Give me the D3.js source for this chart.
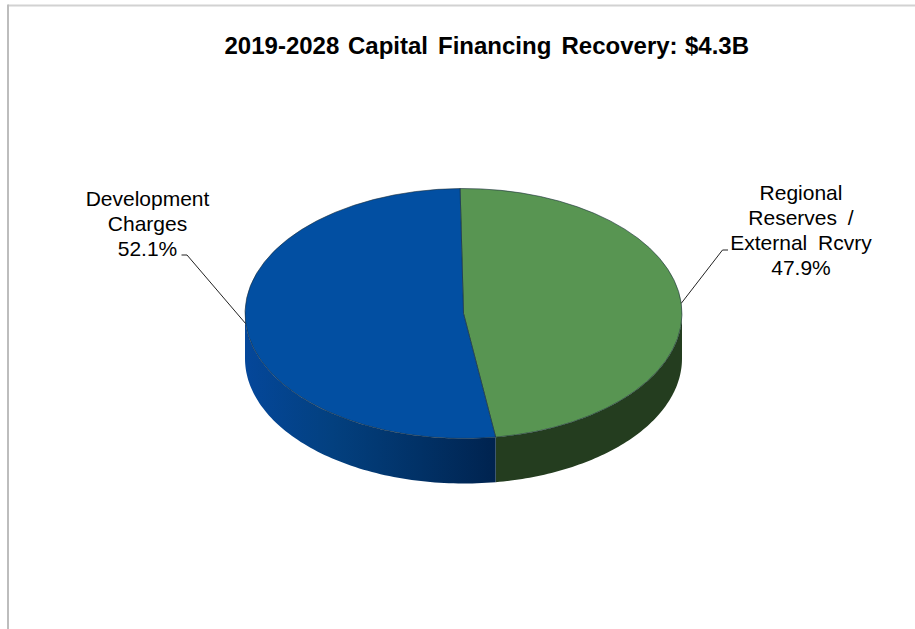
<!DOCTYPE html>
<html><head><meta charset="utf-8">
<script src="https://cdn.jsdelivr.net/npm/d3@7/dist/d3.min.js"></script>
<style>html,body{margin:0;padding:0;background:#fff}svg{display:block}text{font-family:"Liberation Sans",Arial,sans-serif;fill:#000}</style>
</head><body><svg id="c" width="915" height="629"></svg>
<script>
const categories = ["Regional Reserves / External Rcvry", "Development Charges"];
const shares = [47.9, 52.1];
const labelLines = [["Regional", "Reserves /", "External Rcvry", "47.9%"], ["Development", "Charges", "52.1%"]];
const titleWords = ["2019-2028", "Capital", "Financing", "Recovery:", "$4.3B"];
const topColors = ["#589552", "#024fa2"];

const W = 915, H = 629, cx = 463.5, cy = 313.5, rx = 218.5, ry = 125, depth = 45;
const svg = d3.select("#c");
const defs = svg.append("defs");

svg.append("path").attr("d", `M${W},5.5H8`).attr("fill", "none").attr("stroke", "#d2d2d2").attr("stroke-width", 2);
svg.append("path").attr("d", `M8,4.5V${H}`).attr("fill", "none").attr("stroke", "#bdbdbd").attr("stroke-width", 2);

const startA = -0.9 * Math.PI / 180;
const pie = d3.pie().sort(null).startAngle(startA).endAngle(startA + 2 * Math.PI);
const arcs = pie(shares);
const px = a => cx + rx * Math.sin(a), py = a => cy - ry * Math.cos(a);

const grad = defs.append("linearGradient").attr("id", "bw").attr("gradientUnits", "userSpaceOnUse")
  .attr("x1", cx - rx).attr("x2", px(arcs[0].endAngle)).attr("y1", 0).attr("y2", 0);
[[0, "#04479a"], [0.35, "#03407f"], [0.7, "#013166"], [1, "#00234f"]].forEach(s => grad.append("stop").attr("offset", s[0]).attr("stop-color", s[1]));

const area = d3.area().x(a => px(a)).y0(a => py(a)).y1(a => py(a) + depth);
function wall(a0, a1) { const n = 80; return area(d3.range(n + 1).map(i => a0 + (a1 - a0) * i / n)); }
svg.append("path").attr("d", wall(Math.PI / 2, arcs[0].endAngle)).attr("fill", "#243d1f");
svg.append("path").attr("d", wall(arcs[0].endAngle, 1.5 * Math.PI)).attr("fill", "url(#bw)");

const arc = d3.arc().innerRadius(0).outerRadius(rx);
const pieTop = svg.append("g").attr("transform", `translate(${cx},${cy}) scale(1,${ry / rx})`);
pieTop.selectAll("path").data(arcs).join("path").attr("d", arc)
  .attr("fill", (d, i) => topColors[i])
  .attr("stroke", "#1c2f3a").attr("stroke-opacity", 0.75).attr("stroke-width", 0.8)
  .attr("vector-effect", "non-scaling-stroke").attr("stroke-linejoin", "round");

const titleX = [224.5, 348, 438, 561.5, 685];
const title = svg.append("text").attr("y", 54).attr("font-size", 24).attr("font-weight", "bold");
titleWords.forEach((w, i) => title.append("tspan").attr("x", titleX[i]).text(w));

const leaders = [{ ex: 722.5, ey: 250, tx: 728 }, { ex: 187, ey: 255, tx: 181.5 }];
arcs.forEach((d, i) => {
  const m = (d.startAngle + d.endAngle) / 2, l = leaders[i];
  svg.append("path").attr("d", d3.line()([[px(m), py(m)], [l.ex, l.ey], [l.tx, l.ey]]))
    .attr("fill", "none").attr("stroke", "#222").attr("stroke-width", 1);
});
const labelPos = [{ x: 801, y: 200 }, { x: 147.5, y: 206 }];
labelLines.forEach((lines, i) => {
  const t = svg.append("text").attr("text-anchor", "middle").attr("font-size", 21).attr("word-spacing", 5);
  lines.forEach((s, j) => t.append("tspan").attr("x", labelPos[i].x).attr("y", labelPos[i].y + j * 25).text(s));
});
</script></body></html>
